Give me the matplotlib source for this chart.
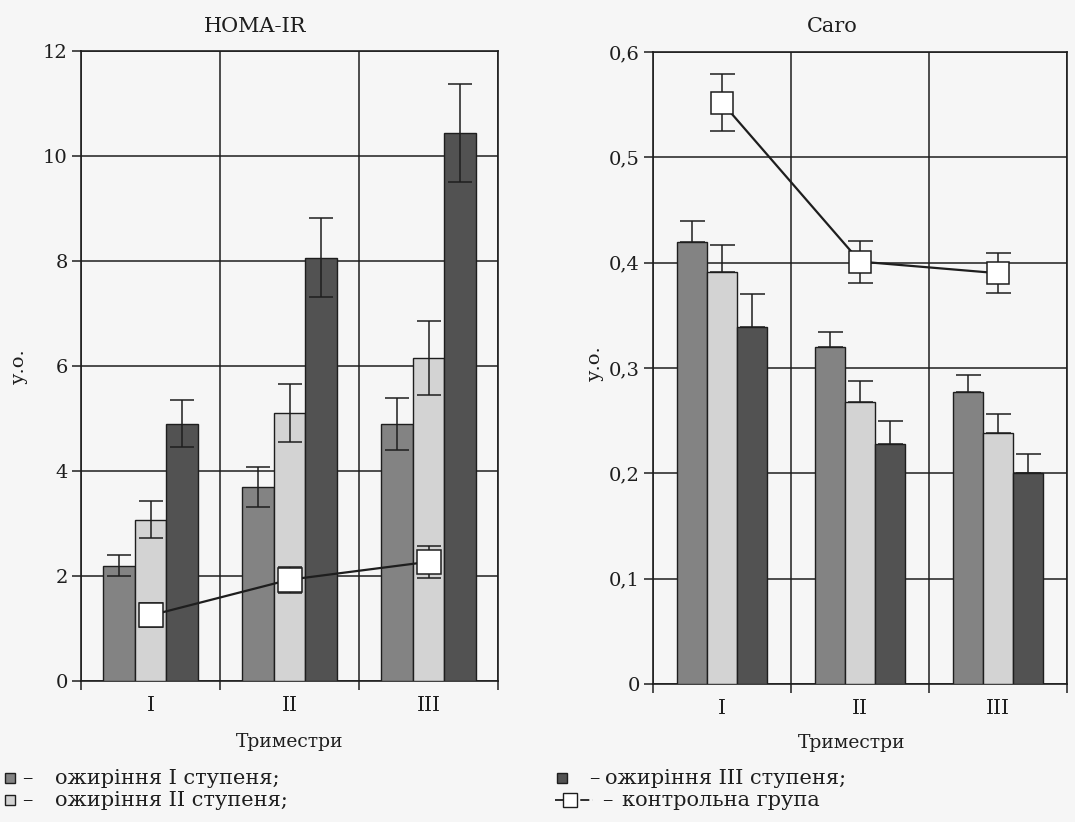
import matplotlib
matplotlib.use("Agg")
import matplotlib.pyplot as plt
import numpy as np
from matplotlib.patches import Rectangle
from matplotlib.lines import Line2D
from matplotlib.ticker import FixedLocator, FuncFormatter, NullFormatter

plt.rcParams['font.family'] = ['DejaVu Serif']

trimesters = ["I", "II", "III"]

# HOMA-IR, у.о.
homa_obesity1 = [2.2, 3.7, 4.9]
homa_obesity1_err = [0.2, 0.38, 0.5]
homa_obesity2 = [3.07, 5.1, 6.15]
homa_obesity2_err = [0.35, 0.55, 0.7]
homa_obesity3 = [4.9, 8.06, 10.44]
homa_obesity3_err = [0.45, 0.75, 0.93]
homa_control = [1.25, 1.93, 2.27]
homa_control_err = [0.23, 0.25, 0.3]

# Caro, у.о.
caro_obesity1 = [0.42, 0.32, 0.277]
caro_obesity1_err = [0.02, 0.014, 0.016]
caro_obesity2 = [0.391, 0.268, 0.238]
caro_obesity2_err = [0.026, 0.02, 0.018]
caro_obesity3 = [0.339, 0.228, 0.2]
caro_obesity3_err = [0.031, 0.022, 0.018]
caro_control = [0.552, 0.401, 0.39]
caro_control_err = [0.027, 0.02, 0.019]

legend_labels = ["ожиріння I ступеня;", "ожиріння II ступеня;",
                 "ожиріння III ступеня;", "контрольна група"]

BG = "#f6f6f6"
INK = "#1e1e1e"
C1, C2, C3 = "#838383", "#d3d3d3", "#525252"

fig = plt.figure(figsize=(10.75, 8.22), dpi=100, facecolor=BG)

W, H = 1075, 822


def px_axes(x0, x1, ytop, ybot):
    return fig.add_axes([x0 / W, 1 - ybot / H, (x1 - x0) / W, (ybot - ytop) / H])


def tick_fmt(decimals):
    def f(v, pos):
        if abs(v) < 1e-9:
            return "0"
        return (f"{v:.{decimals}f}").replace(".", ",")
    return FuncFormatter(f)


def draw_panel(ax, series, errs, control, control_err, width, ymax, ystep,
               upper_only, decimals, msize, cap):
    ax.set_facecolor(BG)
    centers = np.arange(len(trimesters)) + 0.5
    colors = [C1, C2, C3]
    for i, (vals, err, col) in enumerate(zip(series, errs, colors)):
        x = centers + (i - 1) * width
        yerr = [np.zeros(len(err)), err] if upper_only else err
        ax.bar(x, vals, width=width, color=col, edgecolor=INK, linewidth=1.0,
               zorder=3)
        ax.errorbar(x, vals, yerr=yerr, fmt="none", ecolor=INK, elinewidth=1.1,
                    capsize=cap, capthick=1.1, zorder=4)
    ax.errorbar(centers, control, yerr=control_err, fmt="none", ecolor=INK,
                elinewidth=1.1, capsize=cap, capthick=1.1, zorder=5)
    ax.plot(centers, control, color=INK, linewidth=1.6, marker="s",
            markersize=msize, markerfacecolor="white", markeredgecolor=INK,
            markeredgewidth=1.1, zorder=6)

    ax.set_xlim(0, len(trimesters))
    ax.set_ylim(0, ymax)
    yt = np.arange(0, ymax + ystep / 2, ystep)
    ax.set_yticks(yt)
    ax.yaxis.set_major_formatter(tick_fmt(decimals))
    ax.xaxis.set_major_locator(FixedLocator(np.arange(0, len(trimesters) + 1)))
    ax.xaxis.set_major_formatter(NullFormatter())
    ax.xaxis.set_minor_locator(FixedLocator(centers))
    ax.set_xticklabels(trimesters, minor=True)
    ax.tick_params(axis="x", which="major", direction="out", length=6.5,
                   width=1.1, color=INK)
    ax.tick_params(axis="x", which="minor", length=0, pad=11, labelsize=14.5,
                   labelcolor=INK)
    ax.tick_params(axis="y", direction="out", length=6.5, width=1.1,
                   color=INK, labelsize=14, labelcolor=INK, pad=3)
    ax.grid(True, which="major", color=INK, linewidth=1.1, zorder=0)
    ax.set_axisbelow(True)
    for s in ax.spines.values():
        s.set_color(INK)
        s.set_linewidth(1.2)


ax1 = px_axes(81, 498, 51, 681)
draw_panel(ax1, [homa_obesity1, homa_obesity2, homa_obesity3],
           [homa_obesity1_err, homa_obesity2_err, homa_obesity3_err],
           homa_control, homa_control_err, 0.227, 12, 2, False, 0, 17, 8.5)

ax2 = px_axes(653, 1067, 52, 684)
draw_panel(ax2, [caro_obesity1, caro_obesity2, caro_obesity3],
           [caro_obesity1_err, caro_obesity2_err, caro_obesity3_err],
           caro_control, caro_control_err, 0.217, 0.6, 0.1, True, 1, 16, 9)

# panel titles, axis labels
fig.text(255 / W, 1 - 27 / H, "HOMA-IR", ha="center", va="center",
         fontsize=15, color=INK)
fig.text(832 / W, 1 - 27 / H, "Caro", ha="center", va="center",
         fontsize=15, color=INK)
fig.text(290 / W, 1 - 742 / H, "Триместри", ha="center", va="center",
         fontsize=13.5, color=INK)
fig.text(852 / W, 1 - 743 / H, "Триместри", ha="center", va="center",
         fontsize=13.5, color=INK)
fig.text(19 / W, 1 - 366 / H, "у.о.", ha="center", va="center",
         rotation=90, fontsize=14, color=INK)
fig.text(595 / W, 1 - 363 / H, "у.о.", ha="center", va="center",
         rotation=90, fontsize=14, color=INK)

# legend key
LFS = 15


def key_box(x, y, color):
    fig.add_artist(Rectangle(((x - 5) / W, 1 - (y + 5) / H), 10 / W, 10 / H,
                             facecolor=color, edgecolor=INK, linewidth=1.0,
                             transform=fig.transFigure))


def key_text(xd, xt, y, s):
    fig.text(xd / W, 1 - y / H, "–", ha="left", va="center",
             fontsize=LFS, color=INK)
    fig.text(xt / W, 1 - y / H, s, ha="left", va="center",
             fontsize=LFS, color=INK)


key_box(10, 778, C1)
key_text(22, 55, 778, legend_labels[0])
key_box(10, 800, C2)
key_text(22, 55, 800, legend_labels[1])
key_box(562, 778, C3)
key_text(589, 605, 778, legend_labels[2])
fig.add_artist(Line2D([555 / W, 593 / W], [1 - 800 / H, 1 - 800 / H],
                      color=INK, linewidth=1.3, linestyle=(0, (5, 2)),
                      transform=fig.transFigure))
fig.add_artist(Line2D([570 / W], [1 - 800 / H], marker="s", markersize=10,
                      markerfacecolor="white", markeredgecolor=INK,
                      markeredgewidth=1.0, transform=fig.transFigure))
key_text(602, 622, 800, legend_labels[3])

fig.savefig("out.png", dpi=100, facecolor=BG)
